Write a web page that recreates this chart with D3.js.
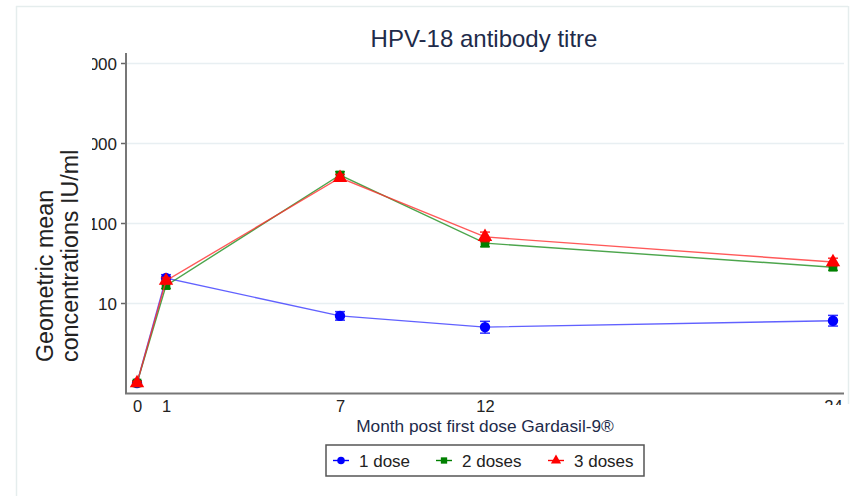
<!DOCTYPE html>
<html><head><meta charset="utf-8">
<script src="https://cdn.jsdelivr.net/npm/d3@7"></script>
<style>
html,body{margin:0;padding:0;background:#fff;}
svg{display:block;font-family:"Liberation Sans",Arial,sans-serif;}
</style></head>
<body>
<div id="chart"></div>
<script>
const titleText = "HPV-18 antibody titre";
const xTitle = "Month post first dose Gardasil-9®";
const yTitle = ["Geometric mean", "concentrations IU/ml"];
const months = [0, 1, 7, 12, 24];
const yTicks = [10, 100, 1000, 10000];
const seriesNames = ["1 dose", "2 doses", "3 doses"];
const dose1 = [1.0, 20.5, 6.9, 5.0, 6.0];
const dose1Lo = [0.95, 18.6, 6.1, 4.2, 5.15];
const dose1Hi = [1.05, 22.6, 7.8, 5.9, 7.0];
const dose2 = [1.0, 16.5, 398, 56, 28];
const dose2Lo = [0.95, 15.2, 362, 50.5, 25.6];
const dose2Hi = [1.05, 17.9, 438, 62, 30.6];
const dose3 = [1.0, 19.0, 368, 67, 32.5];
const dose3Lo = [0.95, 17.4, 334, 58.5, 29.2];
const dose3Hi = [1.05, 20.8, 405, 77, 36.3];

const W = 862, H = 496;
const svg = d3.select("#chart").append("svg").attr("width", W).attr("height", H);

// outer frame
const frameC = "#e5eded";
svg.append("line").attr("x1",16).attr("x2",848).attr("y1",6.5).attr("y2",6.5).attr("stroke",frameC).attr("stroke-width",1.5);
svg.append("line").attr("x1",16.5).attr("x2",16.5).attr("y1",6).attr("y2",H).attr("stroke",frameC).attr("stroke-width",1.5);
svg.append("line").attr("x1",848.5).attr("x2",848.5).attr("y1",6).attr("y2",404).attr("stroke",frameC).attr("stroke-width",1.5);

const x = d3.scaleLinear().domain([-0.38, 24.38]).range([126, 844]);
const y = d3.scaleLog().domain([0.75, 13335]).range([393, 53]);

// clips (in local coordinates of the axis groups)
const defs = svg.append("defs");
defs.append("clipPath").attr("id","yclip").append("rect").attr("x",92-126).attr("y",0).attr("width",W).attr("height",H);
defs.append("clipPath").attr("id","xclip").append("path")
  .attr("d", `M0,-10H${W}V12H800V${H}H0Z`);

// gridlines
svg.append("g").selectAll("line").data(yTicks).join("line")
  .attr("x1",127).attr("x2",844).attr("y1",d=>Math.round(y(d))+0.5).attr("y2",d=>Math.round(y(d))+0.5)
  .attr("stroke","#e8eff2").attr("stroke-width",1.5);

// y axis
const yAxis = svg.append("g").attr("transform","translate(126,0)").attr("clip-path","url(#yclip)")
  .call(d3.axisLeft(y).tickValues(yTicks).tickFormat(d3.format("d")).tickSize(5).tickPadding(4));
yAxis.select(".domain").remove();
yAxis.selectAll(".tick line").attr("stroke","#666").attr("stroke-width",1.5);
yAxis.selectAll("text").attr("fill","#222").style("font-size","17px").attr("dy","0.36em");
svg.append("line").attr("x1",126).attr("x2",126).attr("y1",53).attr("y2",394).attr("stroke","#777").attr("stroke-width",2);

// x axis
const xAxis = svg.append("g").attr("transform","translate(0,393)").attr("clip-path","url(#xclip)")
  .call(d3.axisBottom(x).tickValues(months).tickFormat(d3.format("d")).tickSize(0).tickPadding(7));
xAxis.select(".domain").remove();
xAxis.selectAll("text").attr("fill","#222").style("font-size","16.5px");
svg.append("line").attr("x1",125).attr("x2",844).attr("y1",393.5).attr("y2",393.5).attr("stroke","#777").attr("stroke-width",2);

// titles
svg.append("text").attr("x",484).attr("y",47).attr("text-anchor","middle")
  .style("font-size","24px").attr("fill","#1e2b4a").text(titleText);
svg.append("text").attr("x",485).attr("y",432).attr("text-anchor","middle")
  .style("font-size","17.3px").attr("fill","#1e2b4a").text(xTitle);
yTitle.forEach((t,i)=>{
  svg.append("text").attr("transform",`translate(${53+i*25},362) rotate(-90)`).attr("text-anchor","start")
    .style("font-size","23.3px").attr("fill","#222").text(t);
});

// series
const series = [
  {name:seriesNames[0], v:dose1, lo:dose1Lo, hi:dose1Hi, color:"#0000ff", line:"#3a3aff", shape:"circle"},
  {name:seriesNames[1], v:dose2, lo:dose2Lo, hi:dose2Hi, color:"#008000", line:"#1f8f1f", shape:"square"},
  {name:seriesNames[2], v:dose3, lo:dose3Lo, hi:dose3Hi, color:"#ff0000", line:"#ff3030", shape:"triangle"}
];
const symType = {circle:d3.symbolCircle, square:d3.symbolSquare, triangle:d3.symbolTriangle};
const symSize = {circle:85, square:75, triangle:90};
const line = d3.line().x((d,i)=>x(months[i])).y(d=>y(d));

series.forEach(s=>{
  const g = svg.append("g");
  g.append("path").attr("d", line(s.v)).attr("fill","none").attr("stroke",s.line).attr("stroke-width",1.4).attr("stroke-opacity",0.8);
  months.forEach((m,i)=>{
    const cx = x(m);
    g.append("line").attr("x1",cx).attr("x2",cx).attr("y1",y(s.lo[i])).attr("y2",y(s.hi[i])).attr("stroke",s.color).attr("stroke-width",1.5).attr("stroke-opacity",0.8);
    [s.lo[i], s.hi[i]].forEach(v=>{
      g.append("line").attr("x1",cx-5).attr("x2",cx+5).attr("y1",y(v)).attr("y2",y(v)).attr("stroke",s.color).attr("stroke-width",1.5).attr("stroke-opacity",0.8);
    });
  });
  g.selectAll("path.mk").data(s.v).join("path").attr("class","mk")
    .attr("transform",(d,i)=>`translate(${x(months[i])},${y(d)})`)
    .attr("d", d3.symbol().type(symType[s.shape]).size(symSize[s.shape])())
    .attr("fill",s.color);
});

// legend
const lg = svg.append("g");
lg.append("rect").attr("x",326).attr("y",445).attr("width",318).attr("height",31)
  .attr("fill","#fff").attr("stroke","#555").attr("stroke-width",1.5);
const lx = [341, 444, 556];
series.forEach((s,i)=>{
  lg.append("line").attr("x1",lx[i]-8).attr("x2",lx[i]+8).attr("y1",460.5).attr("y2",460.5).attr("stroke",s.color).attr("stroke-width",1.4);
  lg.append("path").attr("transform",`translate(${lx[i]},460.5)`)
    .attr("d", d3.symbol().type(symType[s.shape]).size(s.shape==="square"?40:45)()).attr("fill",s.color);
  lg.append("text").attr("x",lx[i]+18).attr("y",466.5).style("font-size","17px").attr("fill","#222").text(s.name);
});
</script>
</body></html>
